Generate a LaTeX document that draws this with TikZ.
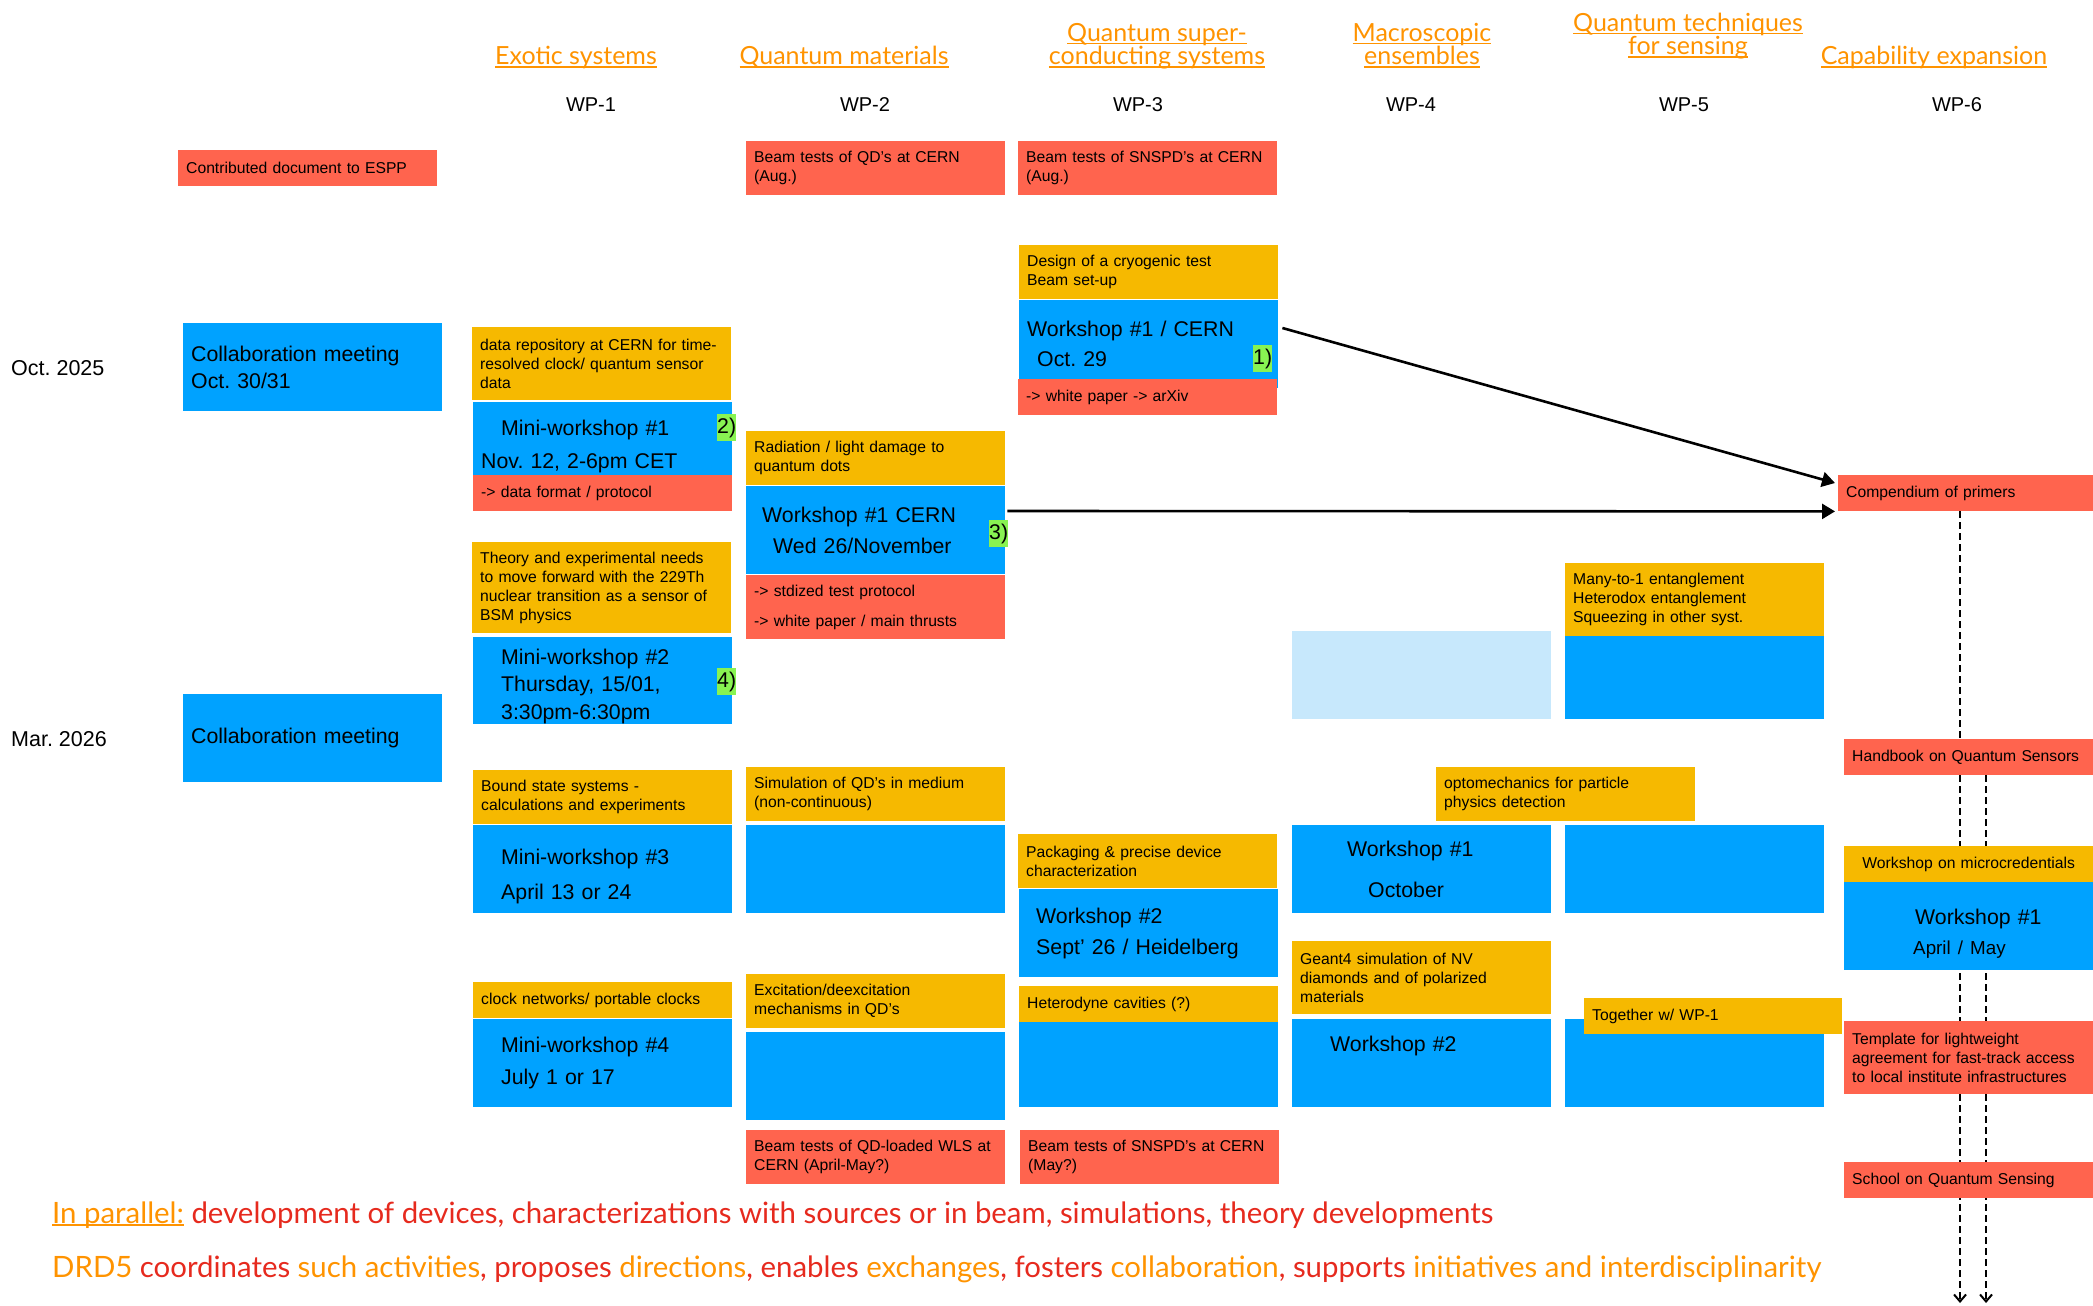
\documentclass[tikz,border=0pt]{standalone}
\usepackage{fontspec}
\setmainfont{Liberation Sans}
\newfontfamily\gillfont{Lato}
\usetikzlibrary{arrows.meta,positioning,calc,backgrounds}
\definecolor{wpblue}{HTML}{00A2FF}
\definecolor{wpgold}{HTML}{F6B900}
\definecolor{wpred}{HTML}{FF644E}
\definecolor{wplight}{HTML}{C7E8FC}
\definecolor{wpgreen}{HTML}{88F352}
\definecolor{headorange}{HTML}{FF9300}
\definecolor{notered}{HTML}{E62A1E}
\newcommand{\hdul}[1]{\setbox0\hbox{#1}\rlap{\rule[-3pt]{\wd0}{1.6pt}}\box0}
\frenchspacing
\hyphenpenalty=10000

\begin{document}
\begin{tikzpicture}[x=1pt,y=-1pt,
	blk/.style={anchor=north west,inner xsep=8pt,inner ysep=0pt,text width=243pt,align=left,minimum height=88pt},
	meet/.style={blk,fill=wpblue,font=\fontsize{21.3}{26}\selectfont},
	task/.style={blk,fill=wpgold,font=\fontsize{15.7}{19}\selectfont},
	deliv/.style={blk,fill=wpred,font=\fontsize{15.7}{19}\selectfont},
	tag/.style={anchor=north west,fill=wpgreen,inner sep=0pt,minimum width=18pt,minimum height=27pt,font=\fontsize{21.3}{26}\selectfont},
	wp/.style={inner sep=0pt,font=\fontsize{20}{24}\selectfont},
	when/.style={anchor=west,inner sep=0pt,font=\fontsize{21.5}{26}\selectfont},
	wphead/.style={anchor=base,inner sep=0pt,align=center,text=headorange,font=\gillfont\fontsize{25}{22}\selectfont},
	note/.style={anchor=base west,inner sep=0pt,text=notered,font=\gillfont\fontsize{29.4}{32}\selectfont},
	flow/.style={line width=2.6pt,-{Triangle[length=13pt,width=15pt]}},
	track/.style={line width=2pt,dash pattern=on 7pt off 4pt,-{Straight Barb[length=7pt,width=12pt]}}
	]
	\useasboundingbox (0,0) rectangle (2093,1306);
	\node[wphead] (h1) at (576,65) {\hdul{Exotic systems}};
	\node[wphead] (h2) at (844,65) {\hdul{Quantum materials}};
	\node[wphead] (h3) at (1157,65) {\hdul{Quantum super-}\\\hdul{conducting systems}};
	\node[wphead] (h4) at (1422,65) {\hdul{Macroscopic}\\\hdul{ensembles}};
	\node[wphead] (h5) at (1688,55) {\hdul{Quantum techniques}\\\hdul{for sensing}};
	\node[wphead] (h6) at (1934,65) {\hdul{Capability expansion}};
	\node[wp] (wp1) at (591,105) {WP-1};
	\node[wp] (wp2) at (865,105) {WP-2};
	\node[wp] (wp3) at (1138,105) {WP-3};
	\node[wp] (wp4) at (1411,105) {WP-4};
	\node[wp] (wp5) at (1684,105) {WP-5};
	\node[wp] (wp6) at (1957,105) {WP-6};
	\node[when] (oct) at (11,368) {Oct. 2025};
	\node[when] (mar) at (11,739) {Mar. 2026};
	
	\node[deliv,minimum height=36pt] (espp) at (178,150) {Contributed document to ESPP};
	\node[meet] (cm1) at (183,323) {Collaboration meeting\\[1pt]Oct. 30/31};
	\node[meet] (cm2) at (183,694) {Collaboration meeting};
	
	\node[task,minimum height=73pt] (repo) at (472,327) {data repository at CERN for time-\\resolved clock/ quantum sensor\\data};
	\node[meet] (mw1) at (473,402) {\hspace*{20pt}Mini-workshop \#1\\[7pt]Nov. 12, 2-6pm CET};
	\node[deliv,minimum height=36pt] (fmt) at (473,475) {-> data format / protocol};
	\node[task,minimum height=91pt] (thy) at (472,542) {Theory and experimental needs\\to move forward with the 229Th\\nuclear transition as a sensor of\\BSM physics};
	\node[meet,minimum height=87pt] (mw2) at (473,637) {\mbox{}\\[1pt]\hspace*{20pt}Mini-workshop \#2\\[1.5pt]\hspace*{20pt}Thursday, 15/01,\\[1.5pt]\hspace*{20pt}3:30pm-6:30pm};
	\node[task,minimum height=54pt] (bound) at (473,770) {Bound state systems -\\calculations and experiments};
	\node[meet] (mw3) at (473,825) {\mbox{}\\[4pt]\hspace*{20pt}Mini-workshop \#3\\[10pt]\hspace*{20pt}April 13 or 24};
	\node[task,minimum height=36pt] (clock) at (473,982) {clock networks/ portable clocks};
	\node[meet] (mw4) at (473,1019) {\hspace*{20pt}Mini-workshop \#4\\[6pt]\hspace*{20pt}July 1 or 17};
	
	\node[deliv,minimum height=54pt] (bt1) at (746,141) {Beam tests of QD’s at CERN\\(Aug.)};
	\node[task,minimum height=54pt] (rad) at (746,431) {Radiation / light damage to\\quantum dots};
	\node[meet] (ws2) at (746,486) {\hspace*{8pt}Workshop \#1 CERN\\[5pt]\hspace*{19pt}Wed 26/November};
	\node[deliv,minimum height=64pt] (std) at (746,575) {-> stdized test protocol\\[11pt]-> white paper / main thrusts};
	\node[task,minimum height=54pt] (sim) at (746,767) {Simulation of QD’s in medium\\(non-continuous)};
	\node[meet] (b21) at (746,825) {};
	\node[task,minimum height=54pt] (exc) at (746,974) {Excitation/deexcitation\\mechanisms in QD’s};
	\node[meet] (b22) at (746,1032) {};
	\node[deliv,minimum height=54pt] (bt3) at (746,1130) {Beam tests of QD-loaded WLS at\\CERN (April-May?)};
	
	\node[deliv,minimum height=54pt] (bt2) at (1018,141) {Beam tests of SNSPD’s at CERN\\(Aug.)};
	\node[task,minimum height=54pt] (cryo) at (1019,245) {Design of a cryogenic test\\Beam set-up};
	\node[meet] (ws3) at (1019,300) {Workshop \#1 / CERN\\[4pt]\hspace*{10pt}Oct. 29};
	\node[deliv,minimum height=36pt] (wpap) at (1018,379) {-> white paper -> arXiv};
	\node[task,minimum height=54pt] (pack) at (1018,834) {Packaging \& precise device\\characterization};
	\node[meet] (ws3b) at (1019,889) {\hspace*{9pt}Workshop \#2\\[5pt]\hspace*{9pt}Sept’ 26 / Heidelberg};
	\node[task,minimum height=36pt] (het) at (1019,986) {Heterodyne cavities (?)};
	\node[meet,minimum height=85pt] (b31) at (1019,1022) {};
	\node[deliv,minimum height=54pt] (bt4) at (1020,1130) {Beam tests of SNSPD’s at CERN\\(May?)};
	
	\node[meet,fill=wplight] (b41) at (1292,631) {};
	\node[meet] (ws4) at (1292,825) {\hspace*{47pt}Workshop \#1\\[15pt]\hspace*{68pt}October};
	\node[task,minimum height=73pt] (g4) at (1292,941) {Geant4 simulation of NV\\diamonds and of polarized\\materials};
	\node[meet] (ws4b) at (1292,1019) {\hspace*{30pt}Workshop \#2\\[12pt]\mbox{}};
	
	\node[meet] (b51) at (1565,631) {};
	\node[task,minimum height=73pt] (ent) at (1565,563) {Many-to-1 entanglement\\Heterodox entanglement\\Squeezing in other syst.};
	\node[task,minimum height=54pt] (opto) at (1436,767) {optomechanics for particle\\physics detection};
	\node[meet] (b52) at (1565,825) {};
	\node[meet] (b53) at (1565,1019) {};
	\node[task,minimum height=36pt,text width=242pt] (tog) at (1584,998) {Together w/ WP-1};
	
	\node[deliv,minimum height=36pt,text width=239pt] (comp) at (1838,475) {Compendium of primers};
	\node[deliv,minimum height=36pt,text width=233pt] (hb) at (1844,739) {Handbook on Quantum Sensors};
	\node[task,minimum height=36pt,text width=233pt,align=center] (micro) at (1844,846) {Workshop on microcredentials};
	\node[meet,text width=233pt] (ws6) at (1844,882) {\mbox{}\\[5.4pt]\hspace*{63pt}Workshop \#1\\[4pt]\hspace*{61pt}{\fontsize{18.8}{22}\selectfont April / May}};
	\node[deliv,minimum height=73pt,text width=233pt] (tmpl) at (1844,1021) {Template for lightweight\\agreement for fast-track access\\to local institute infrastructures};
	\node[deliv,minimum height=36pt,text width=233pt] (school) at (1844,1162) {School on Quantum Sensing};
	
	\node[tag] (n1) at (1253,345) {1)};
	\node[tag] (n2) at (717,414) {2)};
	\node[tag] (n3) at (989,520) {3)};
	\node[tag] (n4) at (717,668) {4)};
	
	\draw[flow] ($(ws3.north east)+(4,28)$) -- ($(comp.north west)+(-3,8)$);
	\draw[flow] ($(ws2.north east)+(2,25)$) -- ($(comp.south west)+(-3,0)$);
	\begin{scope}[on background layer]
		\coordinate (end1) at (1960,1303);
		\coordinate (end2) at (1986,1303);
		\draw[track] (comp.south -| end1) -- (end1);
		\draw[track] (hb.south -| end2) -- (end2);
	\end{scope}
	
	\node[note] (par) at (52,1223) {\textcolor{headorange}{\hdul{In parallel:}} development of devices, characterizations with sources or in beam, simulations, theory developments};
	\node[note] (drd) at (52,1277) {\textcolor{headorange}{DRD5} coordinates \textcolor{headorange}{such activities}, proposes \textcolor{headorange}{directions}, enables \textcolor{headorange}{exchanges}, fosters \textcolor{headorange}{collaboration}, supports \textcolor{headorange}{initiatives and interdisciplinarity}};
\end{tikzpicture}
\end{document}
